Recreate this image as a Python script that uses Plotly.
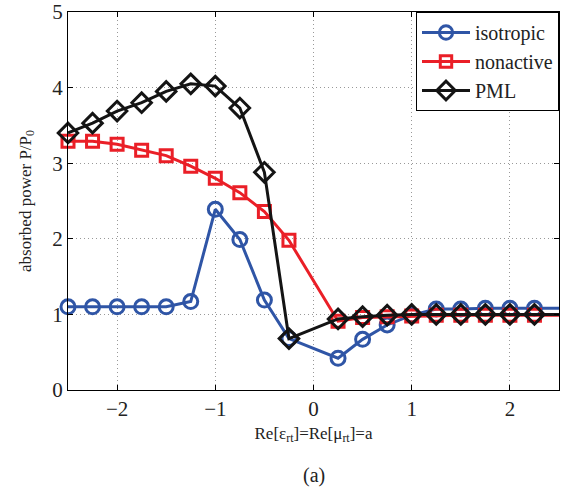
import plotly.graph_objects as go

a_values = [-2.5, -2.25, -2.0, -1.75, -1.5, -1.25, -1.0, -0.75, -0.5, -0.25,
            0.25, 0.5, 0.75, 1.0, 1.25, 1.5, 1.75, 2.0, 2.25, 2.5]

isotropic = [1.10, 1.10, 1.10, 1.10, 1.10, 1.17, 2.39, 1.99, 1.19, 0.68,
             0.42, 0.67, 0.86, 0.99, 1.07, 1.07, 1.08, 1.08, 1.08, 1.08]
nonactive = [3.29, 3.29, 3.25, 3.17, 3.10, 2.96, 2.80, 2.61, 2.36, 1.98,
             0.91, 0.96, 0.97, 0.98, 0.99, 0.99, 0.99, 0.99, 0.99, 0.99]
pml = [3.40, 3.53, 3.69, 3.80, 3.95, 4.05, 4.02, 3.73, 2.88, 0.68,
       0.94, 0.97, 0.99, 1.00, 1.00, 1.00, 1.00, 1.00, 1.00, 1.00]

series_names = ["isotropic", "nonactive", "PML"]
x_ticks = [-2, -1, 0, 1, 2]
y_ticks = [0, 1, 2, 3, 4, 5]

colors = ["#2f55a6", "#ea1f27", "#141414"]
symbols = ["circle-open", "square-open", "diamond-open"]
sizes = [14, 12, 15]

fig = go.Figure()
n = len(a_values)
for name, vals, col, sym, sz in zip(series_names, [isotropic, nonactive, pml], colors, symbols, sizes):
    msz = [sz] * (n - 1) + [0]
    fig.add_trace(go.Scatter(
        x=a_values, y=vals, name=name, mode="lines+markers",
        line=dict(color=col, width=3),
        marker=dict(symbol=sym, size=msz, color=col, opacity=1,
                    line=dict(color=col, width=3)),
        cliponaxis=False,
    ))

serif = "Liberation Serif"
axis_common = dict(
    showline=True, linecolor="black", linewidth=1, mirror="allticks",
    ticks="inside", ticklen=5, tickcolor="black",
    showgrid=True, gridcolor="#999999", gridwidth=1, griddash="1px,3px",
    zeroline=False, tickfont=dict(size=21),
)

fig.update_xaxes(range=[-2.5, 2.5], tickvals=x_ticks, **axis_common,
                 title=dict(text="Re[ε<sub>rt</sub>]=Re[μ<sub>rt</sub>]=a",
                            font=dict(size=17), standoff=6))
fig.update_yaxes(range=[0, 5], tickvals=y_ticks, **axis_common,
                 title=dict(text="absorbed power P/P<sub>0</sub>",
                            font=dict(size=17), standoff=16))

fig.update_layout(
    width=565, height=491,
    font=dict(family=serif, color="#222"),
    margin=dict(l=68, r=6, t=12, b=101, autoexpand=False),
    plot_bgcolor="white", paper_bgcolor="white",
    showlegend=True,
    legend=dict(x=1, y=1, xanchor="right", yanchor="top",
                bordercolor="black", borderwidth=1, bgcolor="white",
                font=dict(size=20), itemwidth=48, tracegroupgap=0),
    annotations=[dict(text="(a)", x=0.5, y=-0.19, xref="paper", yref="paper",
                      yanchor="top", showarrow=False,
                      font=dict(size=20))],
)

fig.write_html("out.html", config={"displayModeBar": False},
               post_script="document.body.style.margin='0';")
